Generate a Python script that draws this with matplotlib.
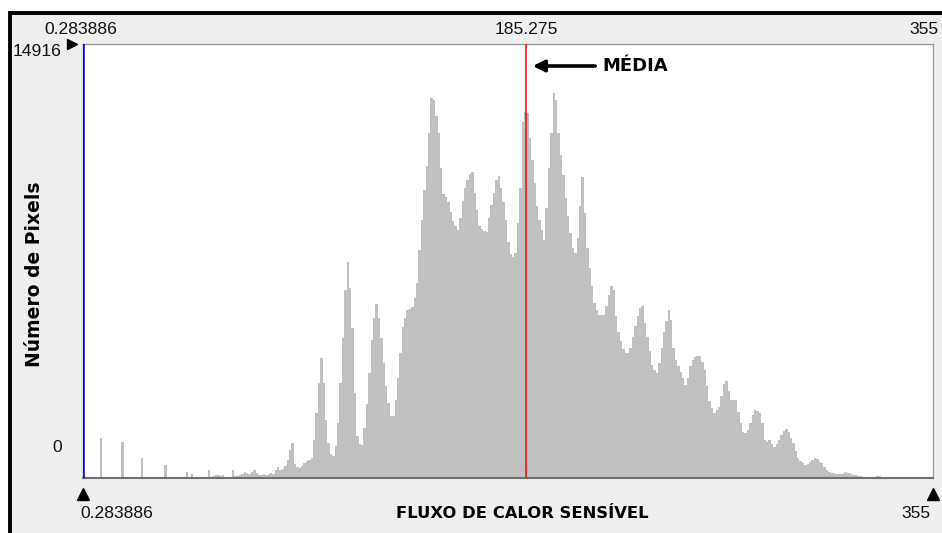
import numpy as np
import matplotlib
matplotlib.use("Agg")
import matplotlib.pyplot as plt
import matplotlib.transforms as mtransforms
from matplotlib.lines import Line2D
from matplotlib.patches import Rectangle, FancyArrowPatch

# Canvas size in pixels (dpi 100)
W, H = 942, 533

# Histogram of sensible heat flux, one bin per unit of flux
FLUX_MIN = 0.283886
FLUX_MAX = 355.0
FLUX_MEAN = 185.275
COUNT_MAX = 14916
BIN_WIDTH = 1.0

pixel_counts = [
    0, 0, 0, 0, 0, 0, 0, 1370, 0, 0,
    0, 0, 0, 0, 0, 0, 1240, 0, 0, 0,
    0, 0, 0, 0, 690, 0, 0, 0, 0, 0,
    0, 0, 0, 0, 450, 0, 0, 0, 0, 0,
    0, 0, 0, 210, 0, 140, 0, 0, 0, 0,
    0, 0, 270, 0, 70, 100, 100, 70, 100, 0,
    0, 0, 270, 70, 70, 100, 140, 210, 170, 140,
    210, 270, 170, 100, 100, 140, 100, 140, 170, 140,
    270, 380, 270, 310, 410, 620, 960, 1200, 480, 380,
    340, 410, 520, 580, 620, 690, 1310, 2230, 3270, 4120,
    3270, 1990, 1200, 820, 760, 1100, 1890, 3270, 4810, 6460,
    7420, 6530, 5160, 2920, 1440, 1170, 1130, 1720, 2540, 3610,
    4740, 5500, 5980, 5500, 4810, 3950, 3160, 2580, 2130, 2130,
    2680, 3440, 4300, 5190, 5500, 5770, 5810, 5880, 6190, 6700,
    7840, 8870, 9900, 10720, 11860, 13060, 12990, 12440, 11860, 10650,
    9760, 9660, 9490, 9140, 8830, 8660, 8520, 8940, 9520, 9970,
    10240, 10450, 10520, 9800, 9210, 8660, 8560, 8490, 8460, 8940,
    9380, 9800, 10240, 10380, 9970, 9490, 8870, 8110, 7700, 7600,
    7730, 8760, 9970, 12240, 12580, 12550, 11690, 10930, 10140, 9350,
    8870, 8520, 8180, 9280, 10650, 11860, 13230, 12990, 11860, 11100,
    10410, 9620, 9000, 8420, 7910, 7730, 8250, 9350, 10350, 9110,
    7910, 7220, 6600, 6010, 5770, 5600, 5600, 5600, 5910, 6290,
    6600, 6460, 5570, 5020, 4710, 4430, 4300, 4300, 4470, 4850,
    5220, 5570, 5840, 5910, 5330, 4850, 4370, 3880, 3710, 3610,
    3950, 4470, 5020, 5400, 5770, 5430, 4470, 4060, 3850, 3640,
    3440, 3200, 3440, 3850, 4060, 4160, 4190, 4190, 3990, 3710,
    3160, 2650, 2410, 2230, 2340, 2440, 2820, 3230, 3330, 2990,
    2680, 2680, 2680, 2270, 1890, 1580, 1550, 1650, 1890, 2170,
    2340, 2300, 2230, 1890, 1310, 1240, 1310, 1170, 1070, 1170,
    1310, 1480, 1620, 1680, 1580, 1370, 1200, 930, 690, 580,
    520, 450, 480, 550, 620, 690, 650, 550, 520, 380,
    270, 210, 170, 170, 140, 140, 140, 170, 210, 170,
    140, 100, 100, 70, 70, 30, 30, 30, 30, 30,
    30, 70, 70, 30, 30, 30, 30, 0, 0, 0,
    0, 0, 0, 0, 0, 0, 0, 0, 0, 0,
    0, 0, 0, 0, 0,
]

x_labels = ["0.283886", "185.275", "355"]
y_labels = ["14916", "0"]
x_title = "FLUXO DE CALOR SENSÍVEL"
y_title = "Número de Pixels"
mean_label = "MÉDIA"

NUM_FONT = ["Liberation Sans", "DejaVu Sans"]
BOLD_FONT = ["DejaVu Sans"]
NUM_SIZE = 12.6


def fx(px):
    return px / W


def fy(py):
    return 1 - py / H


fig = plt.figure(figsize=(W / 100, H / 100), dpi=100, facecolor="white")

# Window panel with dark top/left edge
fig.add_artist(Rectangle((fx(9), 0), 1 - fx(9), fy(12), transform=fig.transFigure,
                         facecolor="#efefef", edgecolor="none", zorder=0))
fig.add_artist(Line2D([fx(10), fx(10)], [0, fy(11)], transform=fig.transFigure,
                      color="black", lw=2.8, solid_capstyle="butt"))
fig.add_artist(Line2D([fx(8.5), 1], [fy(13), fy(13)], transform=fig.transFigure,
                      color="black", lw=2.8, solid_capstyle="butt"))

ax = fig.add_axes([fx(83), fy(478), (933 - 83) / W, (478 - 44) / H])
ax.set_facecolor("white")

edges = FLUX_MIN + BIN_WIDTH * np.arange(len(pixel_counts) + 1)
ax.stairs(pixel_counts, edges, fill=True, color="#c0c0c0", linewidth=0)

ax.axvline(FLUX_MIN, color="#0000ff", lw=1.8, zorder=3)
ax.axvline(FLUX_MEAN, color="#ff0000", lw=1.1, zorder=3)

ax.set_xlim(FLUX_MIN, FLUX_MAX)
ax.set_ylim(0, COUNT_MAX)
ax.set_xticks([])
ax.set_yticks([])
for side in ["top", "right", "left"]:
    ax.spines[side].set_color("#9a9a9a")
    ax.spines[side].set_linewidth(1.0)
ax.spines["bottom"].set_color("#6e6e6e")
ax.spines["bottom"].set_linewidth(1.5)

# x in data units / y in figure fraction, and the reverse
tx = mtransforms.blended_transform_factory(ax.transData, fig.transFigure)
ty = mtransforms.blended_transform_factory(fig.transFigure, ax.transData)

# Range labels along the top
fig.text(fx(81), fy(30), x_labels[0], ha="center", va="center",
         fontsize=NUM_SIZE, family=NUM_FONT, color="#111111")
ax.text(FLUX_MEAN, fy(30), x_labels[1], transform=tx, ha="center", va="center",
        fontsize=NUM_SIZE, family=NUM_FONT, color="#111111")
fig.text(fx(939), fy(30), x_labels[2], ha="right", va="center",
         fontsize=NUM_SIZE, family=NUM_FONT, color="#111111")

# Range labels along the bottom
fig.text(fx(80), fy(513), x_labels[0], ha="left", va="center",
         fontsize=NUM_SIZE, family=NUM_FONT, color="#111111")
fig.text(fx(931), fy(513), x_labels[2], ha="right", va="center",
         fontsize=NUM_SIZE, family=NUM_FONT, color="#111111")

# Count labels on the left
fig.text(fx(62), fy(52), y_labels[0], ha="right", va="center",
         fontsize=NUM_SIZE, family=NUM_FONT, color="#111111")
fig.text(fx(62), fy(447), y_labels[1], ha="right", va="center",
         fontsize=NUM_SIZE, family=NUM_FONT, color="#111111")

# Slider markers
ax.plot([FLUX_MIN, FLUX_MAX], [fy(494), fy(494)], transform=tx, linestyle="none",
        marker="^", markersize=8, color="black", clip_on=False)
ax.plot([fx(72)], [COUNT_MAX], transform=ty, linestyle="none",
        marker=">", markersize=6.5, color="black", clip_on=False)

# Axis titles
fig.text(fx(522), fy(513), x_title, ha="center", va="center",
         fontsize=11.8, fontweight="bold", family=BOLD_FONT, color="black")
fig.text(fx(35), fy(274), y_title, ha="center", va="center", rotation=90,
         fontsize=13.5, fontweight="bold", family=BOLD_FONT, color="black")

# Mean marker annotation
fig.text(fx(602), fy(66), mean_label, ha="left", va="center",
         fontsize=13, fontweight="bold", family=BOLD_FONT, color="black")
fig.add_artist(FancyArrowPatch(
    (fx(598), fy(66)), (fx(530), fy(66)), transform=fig.transFigure,
    arrowstyle="-|>", mutation_scale=17, lw=2.6, color="black"))

fig.savefig("out.png", dpi=100, facecolor="white")
